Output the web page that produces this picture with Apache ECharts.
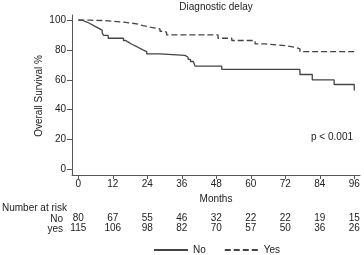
<!DOCTYPE html>
<html><head><meta charset="utf-8">
<script src="https://cdn.jsdelivr.net/npm/echarts@6/dist/echarts.min.js"></script>
<style>html,body{margin:0;padding:0;background:#fff}#c{width:364px;height:255px}</style>
</head><body><div id="c"></div>
<script>
const monthTicks = [0, 12, 24, 36, 48, 60, 72, 84, 96];
const survTicks = [0, 20, 40, 60, 80, 100];
const riskNo = [80, 67, 55, 46, 32, 22, 22, 19, 15];
const riskYes = [115, 106, 98, 82, 70, 57, 50, 36, 26];
const seriesNo = [[0,100],[1.5,99],[2.5,98.3],[3.5,97.3],[4.5,96.2],[5.5,95.2],[6.5,94.2],[7.5,93.2],[8.3,91.5],[8.8,89.8],[10.4,87.9],[15.7,86.4],[16.5,85.3],[17.4,84.2],[18.3,83.4],[19.2,82.6],[20,81.7],[20.9,80.8],[21.8,80],[22.6,79],[23.8,77.4],[28.4,76.4],[37.1,75.2],[38.2,73.8],[39,72.3],[40,71.2],[40.6,69.2],[49.9,67],[77.1,63.6],[81.4,60],[89,56.9],[96,52.9]];
const seriesYes = [[0,100],[4.1,99.8],[8.7,98.7],[15.7,97.6],[20.3,96.4],[22.5,95.3],[24.9,94.2],[28.4,92.6],[29.6,92],[30.7,90.2],[48.6,87.9],[53.4,86.4],[61.5,84.1],[64.9,83],[71.9,81.9],[75.4,80.8],[77.1,79],[96,79]];

const FONT = 'Liberation Sans, Arial, sans-serif';
const TXT = '#222';
const AX = '#555';
const xMin = -2.2, xMax = 98;

function riskAxis(arr, off) {
  return {
    type: 'value', gridIndex: 0, position: 'bottom', offset: off, min: xMin, max: xMax,
    axisLine: {show: false}, axisTick: {show: false}, splitLine: {show: false},
    axisLabel: {customValues: monthTicks, margin: 0, fontSize: 10, color: TXT, fontFamily: FONT,
      formatter: v => { const i = monthTicks.indexOf(Math.round(v)); return i >= 0 ? String(arr[i]) : ''; }}
  };
}

const chart = echarts.init(document.getElementById('c'), null, {renderer: 'canvas'});
chart.setOption({
  animation: false,
  grid: {left: 72, right: 4, top: 15, bottom: 80},
  legend: {
    left: 148, top: 240, itemWidth: 34, itemHeight: 6, itemGap: 18,
    itemStyle: {opacity: 0},
    textStyle: {fontSize: 10, color: TXT, fontFamily: FONT},
    data: ['No', 'Yes']
  },
  xAxis: [
    {
      type: 'value', min: xMin, max: xMax, position: 'bottom',
      name: 'Months', nameLocation: 'middle', nameGap: 15,
      nameTextStyle: {fontSize: 10, color: TXT, fontFamily: FONT},
      axisLine: {show: true, onZero: false, lineStyle: {color: AX, width: 1}},
      axisTick: {show: true, length: 4, customValues: monthTicks, lineStyle: {color: AX}},
      axisLabel: {customValues: monthTicks, margin: 4, fontSize: 10, color: TXT, fontFamily: FONT},
      splitLine: {show: false}
    },
    riskAxis(riskNo, 38),
    riskAxis(riskYes, 48)
  ],
  yAxis: {
    type: 'value', min: -3.8, max: 103.5,
    axisLine: {show: true, onZero: false, lineStyle: {color: AX, width: 1}},
    axisTick: {show: true, length: 5, customValues: survTicks, lineStyle: {color: AX}},
    axisLabel: {customValues: survTicks, margin: 6, fontSize: 10, color: TXT, fontFamily: FONT},
    splitLine: {show: false}
  },
  series: [
    {name: 'No', type: 'line', step: 'end', symbol: 'none', data: seriesNo,
      color: '#444', lineStyle: {color: '#444', width: 1.3, type: 'solid'}},
    {name: 'Yes', type: 'line', step: 'end', symbol: 'none', data: seriesYes,
      color: '#444', lineStyle: {color: '#444', width: 1.3, type: [6, 3]}}
  ],
  graphic: [
    {type: 'text', x: 39, y: 96, rotation: Math.PI / 2, style: {text: 'Overall Survival %', x: 0, y: 0, textAlign: 'center', textVerticalAlign: 'middle', fill: TXT, font: '10px ' + FONT}},
    {type: 'text', style: {text: 'Diagnostic delay', x: 216, y: 7, textAlign: 'center', textVerticalAlign: 'middle', fill: TXT, font: '10px ' + FONT}},
    {type: 'text', style: {text: 'p < 0.001', x: 353, y: 137, textAlign: 'right', textVerticalAlign: 'middle', fill: TXT, font: '10px ' + FONT}},
    {type: 'text', style: {text: 'Number at risk', x: 2, y: 208, textAlign: 'left', textVerticalAlign: 'middle', fill: TXT, font: '10px ' + FONT}},
    {type: 'text', style: {text: 'No', x: 63, y: 219, textAlign: 'right', textVerticalAlign: 'middle', fill: TXT, font: '10px ' + FONT}},
    {type: 'text', style: {text: 'yes', x: 63, y: 229, textAlign: 'right', textVerticalAlign: 'middle', fill: TXT, font: '10px ' + FONT}}
  ]
});
</script></body></html>
